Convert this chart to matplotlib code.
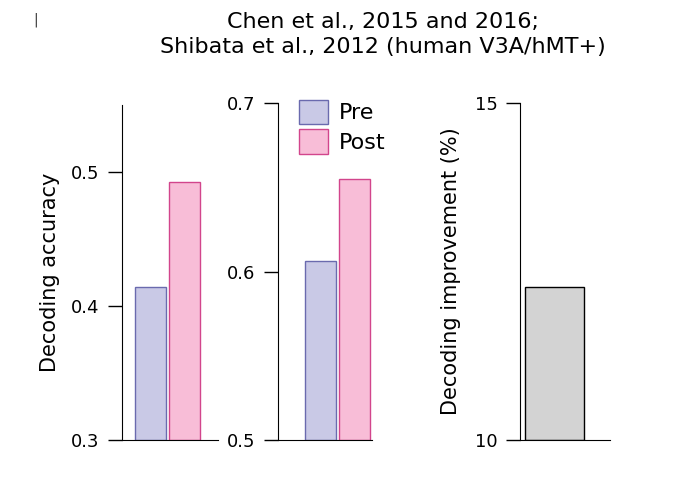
import matplotlib
matplotlib.use("Agg")
import matplotlib.pyplot as plt

groups = ["Pre", "Post"]
acc1 = [0.414, 0.4925]
acc2 = [0.606, 0.655]
improvement = [12.27]
ticks1 = [0.3, 0.4, 0.5]
ticks2 = [0.5, 0.6, 0.7]
ticks3 = [10, 15]

fill = ["#c9c9e6", "#f8bdd7"]
edge = ["#6a6aae", "#d2458c"]

plt.rcParams["font.family"] = "DejaVu Sans"
fig = plt.figure(figsize=(6.76, 4.8), dpi=100)

def style(ax, ticks, ylim):
    ax.set_ylim(*ylim)
    ax.set_xlim(0, 1)
    ax.set_yticks(ticks)
    ax.set_yticklabels([str(t) for t in ticks])
    ax.set_xticks([])
    for s in ["top", "right"]:
        ax.spines[s].set_visible(False)
    ax.tick_params(axis="y", length=10, width=1, labelsize=13, pad=6)

ax1 = fig.add_axes([0.1805, 0.0833, 0.142, 0.698])
for x, v, f, e in zip([0.297, 0.656], acc1, fill, edge):
    ax1.bar(x, v - 0.3, bottom=0.3, width=0.323, color=f, edgecolor=e, linewidth=1)
style(ax1, ticks1, (0.3, 0.55))
ax1.set_ylabel("Decoding accuracy", fontsize=15, labelpad=8)

ax2 = fig.add_axes([0.411, 0.0833, 0.139, 0.702])
for x, v, f, e, g in zip([0.452, 0.82], acc2, fill, edge, groups):
    ax2.bar(x, v - 0.5, bottom=0.5, width=0.33, color=f, edgecolor=e, linewidth=1, label=g)
style(ax2, ticks2, (0.5, 0.7))
ax2.legend(loc="upper left", bbox_to_anchor=(0.08, 1.05), frameon=False, fontsize=16,
           handlelength=1.3, handleheight=1.3, handletextpad=0.5, labelspacing=0.25,
           borderaxespad=0.2)

ax3 = fig.add_axes([0.769, 0.0833, 0.133, 0.702])
ax3.bar(0.383, improvement[0] - 10, bottom=10, width=0.66, color="#d3d3d3", edgecolor="black", linewidth=1)
style(ax3, ticks3, (10, 15))
ax3.set_ylabel("Decoding improvement (%)", fontsize=15, labelpad=10)

fig.text(0.567, 0.975, "Chen et al., 2015 and 2016;\nShibata et al., 2012 (human V3A/hMT+)",
         ha="center", va="top", fontsize=16, linespacing=1.3)
fig.text(0.052, 0.958, "|", ha="center", va="center", fontsize=10, color="#333333")

fig.savefig("out.png", dpi=100)
